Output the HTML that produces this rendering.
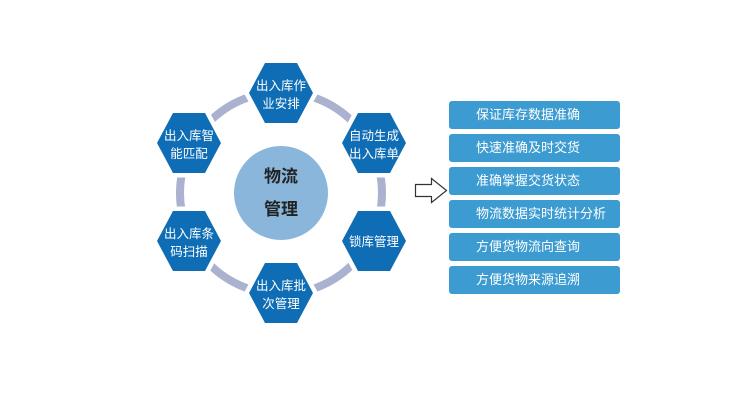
<!DOCTYPE html>
<html><head><meta charset="utf-8"><style>
body{margin:0;background:#fff;width:740px;height:400px;overflow:hidden;font-family:"Liberation Sans","Noto Sans CJK SC",sans-serif}
.b{position:absolute;left:449px;width:171px;height:28px;background:#3c9bd0;border-radius:3px;color:#fff;font-size:13px;line-height:28px;box-sizing:border-box;padding-left:27px}
</style></head><body>
<svg width="740" height="400" style="position:absolute;left:0;top:0" font-family="Liberation Sans, Noto Sans CJK SC, sans-serif">
<circle cx="281" cy="193" r="101" fill="none" stroke="#aab2d0" stroke-width="8"/>
<defs><polygon id="h" points="-32,0 -16,-30 16,-30 32,0 16,30 -16,30" fill="#0f6db5" stroke="#fff" stroke-width="9" paint-order="stroke"/></defs>
<use href="#h" x="281" y="93"/><use href="#h" x="374" y="143"/><use href="#h" x="374" y="241"/>
<use href="#h" x="281" y="293"/><use href="#h" x="189" y="241"/><use href="#h" x="189" y="143"/>
<circle cx="281" cy="193" r="47" fill="#8ab6dc"/>
<g fill="#fff" font-size="12.5" text-anchor="middle">
<text x="281" y="90">出入库作</text><text x="281" y="108">业安排</text>
<text x="374" y="140">自动生成</text><text x="374" y="158">出入库单</text>
<text x="374" y="246">锁库管理</text>
<text x="281" y="290">出入库批</text><text x="281" y="308">次管理</text>
<text x="189" y="238">出入库条</text><text x="189" y="256">码扫描</text>
<text x="189" y="140">出入库智</text><text x="189" y="158">能匹配</text>
</g>
<g fill="#222" font-size="17" font-weight="bold" text-anchor="middle">
<text x="281" y="182">物流</text><text x="281" y="215">管理</text></g>
<polygon points="415.5,184.5 431.5,184.5 431.5,178.5 446.5,190.5 431.5,202.5 431.5,196.5 415.5,196.5" fill="#fff" stroke="#333" stroke-width="1.2"/>
</svg>
<div class="b" style="top:101px">保证库存数据准确</div>
<div class="b" style="top:134px">快速准确及时交货</div>
<div class="b" style="top:167px">准确掌握交货状态</div>
<div class="b" style="top:200px">物流数据实时统计分析</div>
<div class="b" style="top:233px">方便货物流向查询</div>
<div class="b" style="top:266px">方便货物来源追溯</div>
</body></html>
